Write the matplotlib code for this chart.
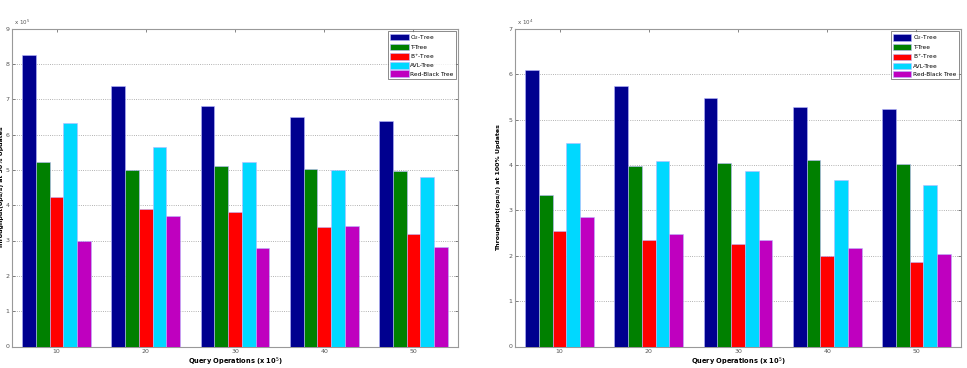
import matplotlib.pyplot as plt
import numpy as np

queries = [10, 20, 30, 40, 50]
series_names = ['O$_2$-Tree', 'T-Tree', 'B$^{+}$-Tree', 'AVL-Tree', 'Red-Black Tree']
colors = ['#00008f', '#008000', '#ff0000', '#00d8ff', '#bf00bf']

# 50% updates (x 10^5)
left_o2 = [8.25, 7.38, 6.80, 6.50, 6.37]
left_t = [5.23, 5.00, 5.10, 5.03, 4.98]
left_bplus = [4.22, 3.90, 3.80, 3.37, 3.18]
left_avl = [6.32, 5.66, 5.22, 4.99, 4.80]
left_rb = [2.98, 3.68, 2.80, 3.42, 2.83]

# 100% updates (x 10^4)
right_o2 = [6.09, 5.75, 5.48, 5.29, 5.23]
right_t = [3.33, 3.98, 4.05, 4.11, 4.02]
right_bplus = [2.55, 2.35, 2.25, 2.00, 1.87]
right_avl = [4.49, 4.08, 3.86, 3.68, 3.55]
right_rb = [2.85, 2.47, 2.35, 2.17, 2.04]

plt.rcParams['font.family'] = 'DejaVu Sans'

fig = plt.figure(figsize=(9.67, 3.68), dpi=100)
ax1 = fig.add_axes([12 / 967, 1 - 346.5 / 368, 446 / 967, 318 / 368])
ax2 = fig.add_axes([515 / 967, 1 - 346.5 / 368, 446 / 967, 317.5 / 368])


def draw(ax, data, ymax, ylabel, expo, ylab_x):
    n = len(data)
    group = n / (n + 1.5) * 10
    w = group / n
    x = np.array(queries, dtype=float)
    for i, vals in enumerate(data):
        offs = -group / 2 + w * (i + 0.5)
        ax.bar(x + offs, vals, width=w, color=colors[i], edgecolor='#b8b8ff',
               linewidth=0.4, label=series_names[i], zorder=3)
    ax.set_xlim(5, 55)
    ax.set_ylim(0, ymax)
    ax.set_xticks(queries)
    ax.set_yticks(range(0, ymax + 1))
    ax.grid(axis='y', linestyle=':', color='#999999', linewidth=0.6, zorder=0)
    ax.tick_params(axis='both', direction='in', labelsize=4.5, colors='#555555',
                   length=2.5, width=0.5, top=True, right=True, pad=2)
    for s in ax.spines.values():
        s.set_color('#999999')
        s.set_linewidth(0.8)
    ax.set_xlabel('Query Operations (x 10$^5$)', fontsize=4.8, fontweight='bold', labelpad=1)
    ax.set_ylabel(ylabel, fontsize=4.5, fontweight='bold')
    ax.yaxis.set_label_coords(ylab_x, 0.5)
    ax.text(0.005, 1.005, expo, transform=ax.transAxes, fontsize=4, color='#555555',
            va='bottom', ha='left')
    leg = ax.legend(loc='upper right', fontsize=4.2, frameon=True, fancybox=False,
                    borderpad=0.35, handlelength=3.2, handleheight=1.3,
                    labelspacing=0.3, handletextpad=0.3, borderaxespad=0.4)
    leg.get_frame().set_edgecolor('#555555')
    leg.get_frame().set_linewidth(0.6)


draw(ax1, [left_o2, left_t, left_bplus, left_avl, left_rb], 9,
     'Throughput(ops/s) at 50% Updates', 'x 10$^5$', -7.5 / 446)
draw(ax2, [right_o2, right_t, right_bplus, right_avl, right_rb], 7,
     'Throughput(ops/s) at 100% Updates', 'x 10$^4$', -14 / 446)

fig.savefig('out.png', dpi=100)
